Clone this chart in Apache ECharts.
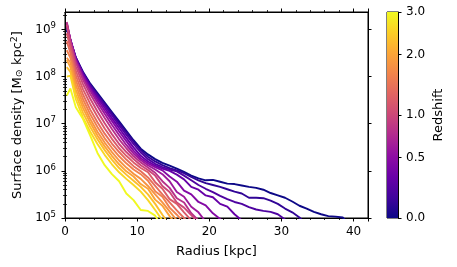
<!DOCTYPE html>
<html>
<head>
<meta charset="utf-8">
<script src="https://cdn.jsdelivr.net/npm/echarts@6/dist/echarts.min.js"></script>
<style>
html,body{margin:0;padding:0;background:#fff;}
#chart{width:457px;height:267px;}
</style>
</head>
<body>
<div id="chart"></div>
<script>
// ---------------- data ----------------
// radial bins [kpc]
const radii = [0.25, 0.75, 1.5, 2.5, 3.5, 4.5, 5.5, 6.5, 7.5, 8.5, 9.5, 10.5, 11.5, 12.5, 13.5, 14.5,
  15.5, 16.5, 17.5, 18.5, 19.5, 20.5, 21.5, 22.5, 23.5, 24.5, 25.5, 26.5, 27.5, 28.5, 29.5, 30.5,
  31.5, 32.5, 33.5, 34.5, 35.5, 36.5, 37.5, 38.5, 39.5];

// redshift of each profile
const redshifts = [0.0, 0.1, 0.2, 0.3, 0.45, 0.6, 0.8, 1.0, 1.2, 1.4, 1.6, 1.8, 2.0, 2.3, 2.6, 3.0];

// log10 surface density [Msun / kpc^2] per profile
const logSigma_z00 = [9.0, 8.75, 8.4, 8.1, 7.85, 7.65, 7.45, 7.25, 7.05, 6.85, 6.65, 6.47, 6.35, 6.25, 6.17, 6.11,
  6.05, 5.98, 5.9, 5.84, 5.8, 5.81, 5.77, 5.73, 5.72, 5.69, 5.66, 5.64, 5.6, 5.53, 5.48, 5.43,
  5.35, 5.26, 5.2, 5.13, 5.08, 5.04, 5.03, 5.01, 4.85];
const logSigma_z01 = [9.05, 8.77, 8.4, 8.08, 7.83, 7.62, 7.42, 7.22, 7.02, 6.82, 6.62, 6.44, 6.3, 6.2, 6.12, 6.06,
  6.01, 5.95, 5.87, 5.8, 5.74, 5.7, 5.66, 5.61, 5.56, 5.52, 5.43, 5.43, 5.42, 5.37, 5.3, 5.2,
  5.12, 5.01, 4.85];
const logSigma_z02 = [9.08, 8.78, 8.4, 8.07, 7.81, 7.6, 7.39, 7.18, 6.97, 6.77, 6.57, 6.39, 6.25, 6.15, 6.08, 6.03,
  5.99, 5.9, 5.8, 5.7, 5.62, 5.55, 5.47, 5.4, 5.34, 5.3, 5.23, 5.18, 5.15, 5.13, 5.08, 4.97, 4.85];
const logSigma_z03 = [9.1, 8.78, 8.38, 8.05, 7.78, 7.56, 7.34, 7.12, 6.91, 6.7, 6.5, 6.32, 6.2, 6.11, 6.05, 6.0,
  5.92, 5.82, 5.66, 5.6, 5.48, 5.44, 5.3, 5.24, 5.08, 4.95, 4.8];
const logSigma_z045 = [9.12, 8.78, 8.36, 8.02, 7.74, 7.51, 7.28, 7.06, 6.84, 6.63, 6.43, 6.27, 6.16, 6.08, 6.01, 5.88,
  5.77, 5.58, 5.5, 5.34, 5.27, 5.1, 4.98, 4.85];
const logSigma_z06 = [9.14, 8.78, 8.34, 7.98, 7.7, 7.45, 7.21, 6.98, 6.76, 6.55, 6.37, 6.23, 6.12, 6.03, 5.93, 5.78,
  5.55, 5.45, 5.24, 5.12, 4.92];
const logSigma_z08 = [9.16, 8.76, 8.3, 7.93, 7.63, 7.37, 7.12, 6.89, 6.67, 6.48, 6.31, 6.18, 6.07, 5.96, 5.78, 5.64,
  5.42, 5.33, 5.1, 4.95];
const logSigma_z10 = [9.1, 8.7, 8.22, 7.84, 7.53, 7.26, 7.01, 6.78, 6.57, 6.4, 6.25, 6.12, 6.02, 5.9, 5.68, 5.55,
  5.33, 5.22, 5.06, 4.9];
const logSigma_z12 = [8.92, 8.6, 8.12, 7.73, 7.42, 7.15, 6.9, 6.68, 6.48, 6.32, 6.18, 6.06, 5.97, 5.76, 5.62, 5.4,
  5.3, 5.12, 4.95];
const logSigma_z14 = [8.75, 8.5, 8.02, 7.62, 7.3, 7.03, 6.79, 6.58, 6.4, 6.24, 6.1, 5.99, 5.86, 5.68, 5.5, 5.33,
  5.16, 5.0, 4.85];
const logSigma_z16 = [8.56, 8.4, 7.92, 7.52, 7.2, 6.93, 6.69, 6.49, 6.31, 6.16, 6.03, 5.93, 5.79, 5.57, 5.45, 5.22,
  5.07, 4.9];
const logSigma_z18 = [8.4, 8.3, 7.82, 7.42, 7.1, 6.83, 6.6, 6.4, 6.22, 6.07, 5.94, 5.83, 5.68, 5.5, 5.33, 5.14, 4.95];
const logSigma_z20 = [8.35, 8.2, 7.72, 7.33, 7.02, 6.75, 6.52, 6.32, 6.14, 5.99, 5.88, 5.72, 5.62, 5.39, 5.26, 5.04, 4.85];
const logSigma_z23 = [8.2, 8.1, 7.62, 7.23, 6.93, 6.67, 6.44, 6.24, 6.06, 5.92, 5.79, 5.66, 5.5, 5.3, 5.07, 4.85];
const logSigma_z26 = [8.0, 8.02, 7.52, 7.13, 6.83, 6.57, 6.34, 6.14, 5.97, 5.83, 5.7, 5.56, 5.38, 5.17, 4.95];
const logSigma_z30 = [7.6, 7.75, 7.35, 7.1, 6.75, 6.38, 6.12, 5.93, 5.78, 5.52, 5.38, 5.17, 5.15, 5.05, 4.8];

const profiles = [logSigma_z00, logSigma_z01, logSigma_z02, logSigma_z03, logSigma_z045, logSigma_z06,
  logSigma_z08, logSigma_z10, logSigma_z12, logSigma_z14, logSigma_z16, logSigma_z18, logSigma_z20,
  logSigma_z23, logSigma_z26, logSigma_z30];

// axis ticks
const xTicks = [0, 10, 20, 30, 40];
const yMajorTicks = [1e5, 1e6, 1e7, 1e8, 1e9];
const cbarTicks = [0.0, 0.5, 1.0, 2.0, 3.0];
const zMax = 3.0;

// ---------------- helpers ----------------
const plasmaStops = ['#0d0887', '#41049d', '#6a00a8', '#8f0da4', '#b12a90', '#cc4778',
  '#e16462', '#f2844b', '#fca636', '#fcce25', '#f0f921'];
function hex2rgb(h) { return [1, 3, 5].map(i => parseInt(h.substr(i, 2), 16)); }
function plasma(t) {
  t = Math.max(0, Math.min(1, t));
  const n = plasmaStops.length - 1;
  const f = t * n, i = Math.min(n - 1, Math.floor(f)), u = f - i;
  const a = hex2rgb(plasmaStops[i]), b = hex2rgb(plasmaStops[i + 1]);
  const c = a.map((v, k) => Math.round(v + (b[k] - v) * u));
  return 'rgb(' + c.join(',') + ')';
}
const norm = z => Math.log10(1 + z) / Math.log10(1 + zMax);

const yMinorTicks = [];
for (let d = 5; d <= 9; d++) for (let k = 2; k <= 9; k++) {
  const v = k * Math.pow(10, d);
  if (v < 2.35e9) yMinorTicks.push(v);
}

const FONT = 'DejaVu Sans';
const TXT = '#000';

const series = profiles.map((p, i) => ({
  type: 'line',
  xAxisIndex: 0, yAxisIndex: 0,
  data: p.map((v, j) => [radii[j], Math.pow(10, v)]),
  showSymbol: false, symbol: 'none',
  clip: true,
  lineStyle: { width: 1.9, color: plasma(norm(redshifts[i])) },
  z: 2 + i,
  silent: true,
  animation: false
}));

const cbGradient = new echarts.graphic.LinearGradient(0, 1, 0, 0,
  plasmaStops.map((c, i) => ({ offset: i / (plasmaStops.length - 1), color: c })));

series.push({
  type: 'bar',
  xAxisIndex: 2, yAxisIndex: 3,
  data: [Math.log10(1 + zMax)],
  barWidth: '100%',
  itemStyle: { color: cbGradient },
  silent: true,
  animation: false
});

const tickLabelStyle = { fontFamily: FONT, fontSize: 12, color: TXT };
const titleStyle = { fontFamily: FONT, fontSize: 13, color: TXT };

const option = {
  animation: false,
  backgroundColor: '#fff',
  grid: [
    { left: 65, top: 12, width: 303, height: 206, show: true, borderColor: '#000', borderWidth: 1, containLabel: false },
    { left: 387, top: 12, width: 11, height: 206, show: true, borderColor: '#000', borderWidth: 1, containLabel: false }
  ],
  xAxis: [
    {
      type: 'value', gridIndex: 0, min: 0, max: 42, interval: 10,
      name: 'Radius [kpc]', nameLocation: 'middle', nameGap: 27,
      nameTextStyle: titleStyle,
      axisLine: { show: true, onZero: false, lineStyle: { color: '#000', width: 1 } },
      axisTick: { show: true, length: 3.5, inside: false, lineStyle: { color: '#000', width: 1 } },
      minorTick: { show: true, splitNumber: 5, length: 2, lineStyle: { color: '#000', width: 0.8 } },
      axisLabel: Object.assign({ margin: 8, customValues: xTicks }, tickLabelStyle),
      splitLine: { show: false }
    },
    {
      type: 'value', gridIndex: 0, position: 'top', min: 0, max: 42, interval: 10,
      axisLine: { show: true, onZero: false, lineStyle: { color: '#000', width: 1 } },
      axisTick: { show: true, length: 3.5, lineStyle: { color: '#000', width: 1 } },
      minorTick: { show: true, splitNumber: 5, length: 2, lineStyle: { color: '#000', width: 0.8 } },
      axisLabel: { show: false },
      splitLine: { show: false }
    },
    {
      type: 'category', gridIndex: 1, data: ['cbar'], show: false
    }
  ],
  yAxis: [
    {
      type: 'log', gridIndex: 0, logBase: 10, min: 1e5, max: 2.35e9,
      name: 'Surface density [M{sub|⊙} kpc{sup|2}]', nameLocation: 'middle', nameGap: 38, nameRotate: 90,
      nameTextStyle: Object.assign({
        rich: {
          sub: { fontFamily: FONT, fontSize: 9.5, color: TXT, padding: [4, 0, 0, 0] },
          sup: { fontFamily: FONT, fontSize: 9.5, color: TXT, padding: [0, 0, 6, 0] }
        }
      }, titleStyle),
      axisLine: { show: true, onZero: false, lineStyle: { color: '#000', width: 1 } },
      axisTick: { show: true, length: 3.5, customValues: yMajorTicks, lineStyle: { color: '#000', width: 1 } },
      axisLabel: {
        customValues: yMajorTicks, margin: 9,
        formatter: v => '{b|10}{e|' + Math.round(Math.log10(v)) + '}',
        rich: {
          b: { fontFamily: FONT, fontSize: 12, color: TXT },
          e: { fontFamily: FONT, fontSize: 8.5, color: TXT, padding: [0, 0, 7, 0] }
        }
      },
      splitLine: { show: false }
    },
    {
      type: 'log', gridIndex: 0, logBase: 10, min: 1e5, max: 2.35e9, position: 'left',
      axisLine: { show: false },
      axisTick: { show: true, length: 2, customValues: yMinorTicks, lineStyle: { color: '#000', width: 0.8 } },
      axisLabel: { show: false },
      splitLine: { show: false }
    },
    {
      type: 'log', gridIndex: 0, logBase: 10, min: 1e5, max: 2.35e9, position: 'right',
      axisLine: { show: true, onZero: false, lineStyle: { color: '#000', width: 1 } },
      axisTick: { show: true, length: 3.5, customValues: yMajorTicks, lineStyle: { color: '#000', width: 1 } },
      axisLabel: { show: false },
      splitLine: { show: false }
    },
    {
      type: 'value', gridIndex: 1, min: 0, max: Math.log10(1 + zMax), position: 'right',
      name: 'Redshift', nameLocation: 'middle', nameGap: 34, nameRotate: 90,
      nameTextStyle: titleStyle,
      axisLine: { show: true, lineStyle: { color: '#000', width: 1 } },
      axisTick: { show: true, length: 3.5, customValues: cbarTicks.map(z => Math.log10(1 + z)), lineStyle: { color: '#000', width: 1 } },
      axisLabel: Object.assign({
        customValues: cbarTicks.map(z => Math.log10(1 + z)), margin: 8,
        formatter: v => (Math.pow(10, v) - 1).toFixed(1)
      }, tickLabelStyle),
      splitLine: { show: false }
    },
    {
      type: 'log', gridIndex: 0, logBase: 10, min: 1e5, max: 2.35e9, position: 'right',
      axisLine: { show: false },
      axisTick: { show: true, length: 2, customValues: yMinorTicks, lineStyle: { color: '#000', width: 0.8 } },
      axisLabel: { show: false },
      splitLine: { show: false }
    }
  ],
  series: series
};

const chart = echarts.init(document.getElementById('chart'), null, { renderer: 'canvas' });
chart.setOption(option);
</script>
</body>
</html>
